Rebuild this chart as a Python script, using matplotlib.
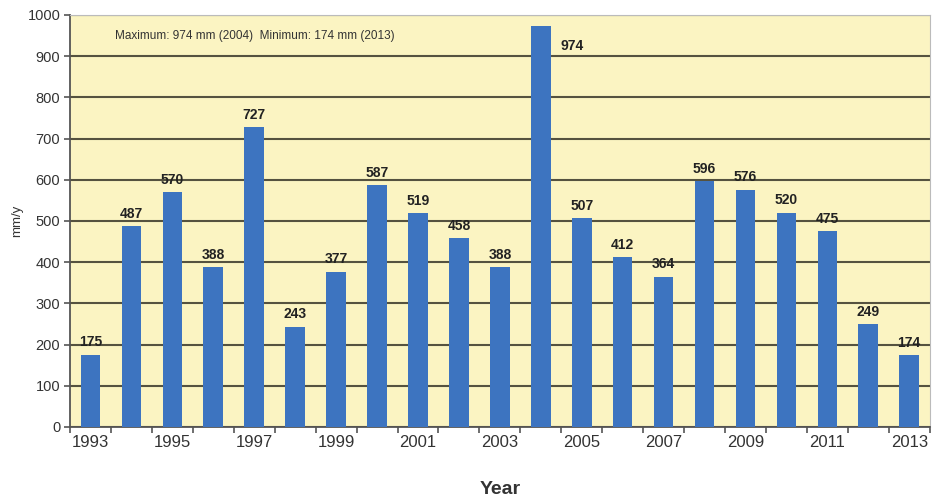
import matplotlib
matplotlib.use("Agg")
import matplotlib.pyplot as plt
import numpy as np

years = list(range(1993, 2014))
rainfall = [175, 487, 570, 388, 727, 243, 377, 587, 519, 458, 388,
            974, 507, 412, 364, 596, 576, 520, 475, 249, 174]
yticks = list(range(0, 1001, 100))
note = "Maximum: 974 mm (2004)  Minimum: 174 mm (2013)"

plt.rcParams['font.family'] = ['Liberation Sans', 'DejaVu Sans']

fig = plt.figure(figsize=(9.41, 5.04), dpi=100)
ax = fig.add_axes([0.0744, 0.1528, 0.9136, 0.8175])
ax.set_facecolor('#FBF4C2')

x = np.arange(len(years))
ax.bar(x, rainfall, width=0.48, color='#3D74C0', zorder=3)

ax.set_xlim(-0.5, len(years) - 0.5)
ax.set_ylim(0, 1000)
ax.set_yticks(yticks)
ax.set_yticklabels([str(v) for v in yticks], fontsize=10.5, color='#333333')
ax.yaxis.grid(True, color='#55523F', linewidth=1.5, zorder=1)
ax.set_axisbelow(True)

# x ticks at category boundaries, labels every second year
ax.set_xticks(np.arange(len(years) + 1) - 0.5)
ax.set_xticklabels([])
ax.set_xticks(x[::2], minor=True)
ax.set_xticklabels([str(y) for y in years[::2]], minor=True, fontsize=12, color='#333333')
ax.tick_params(axis='x', which='minor', length=0, pad=6)
ax.tick_params(axis='x', which='major', length=4, color='#555555', width=1.2)
ax.tick_params(axis='y', length=4, color='#555555', width=1.2, pad=3)

for s in ['top', 'right']:
    ax.spines[s].set_color('#BBBBBB')
for s in ['left', 'bottom']:
    ax.spines[s].set_color('#555555')
    ax.spines[s].set_linewidth(1.3)

imax = int(np.argmax(rainfall))
for i, v in enumerate(rainfall):
    if i == imax:
        ax.annotate(str(v), (x[i], v), xytext=(14, -20), textcoords='offset points',
                    ha='left', va='bottom', fontsize=10, fontweight='bold', color='#222222')
    else:
        ax.annotate(str(v), (x[i], v), xytext=(0, 4), textcoords='offset points',
                    ha='center', va='bottom', fontsize=10, fontweight='bold', color='#222222')

ax.text(0.052, 0.948, note, transform=ax.transAxes, fontsize=8.5, color='#333333',
        ha='left', va='center')

ax.set_ylabel('mm/y', fontsize=9.5, color='#333333', labelpad=3)
ax.set_xlabel('Year', fontsize=14, fontweight='bold', color='#333333', labelpad=22)

fig.savefig('out.png', dpi=100)
